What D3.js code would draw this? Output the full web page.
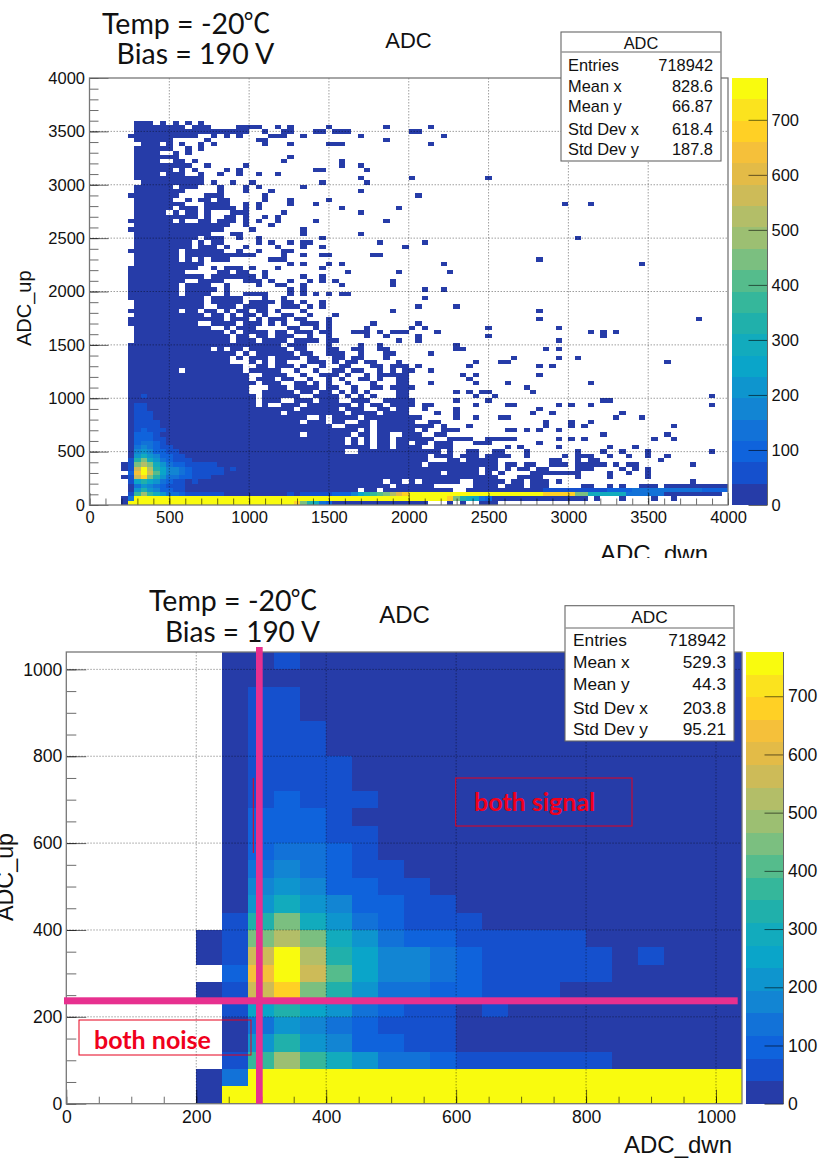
<!DOCTYPE html>
<html><head><meta charset="utf-8">
<script src="https://cdnjs.cloudflare.com/ajax/libs/d3/7.8.5/d3.min.js"></script>
<style>
html,body{margin:0;padding:0;background:#fff}
svg{display:block}
text{font-family:"Liberation Sans",Arial,sans-serif;fill:#111}
.note{font-family:Lato,"Noto Sans CJK SC",sans-serif}
.note tspan{font-family:"Noto Sans CJK SC",sans-serif}
.tag{font-family:Lato,sans-serif;font-weight:700;fill:#f0001c}
</style></head><body>
<svg id="c" width="822" height="1163"></svg>
<script>
// ---------- data ----------
const binSize = 40;
const palette = ["#263ca8","#1550cd","#0f63dc","#1272d8","#1285d3","#0e95ce","#0aa5c9","#12abbd","#20b0ab",
  "#35b79b","#55bc8c","#7bbf80","#9cbf72","#b3be68","#cdbb58","#e3bb47","#f5c03a","#ffd025","#fbe31e","#f9fb0e"];
const zMax = 776;
const zTicks = [0,100,200,300,400,500,600,700];

// Counts for bins x=200..1040 (columns, 21 bins) and y=0..1040 (rows, from y=0 upward)
const coreCounts = [
 [20,790,790,790,790,790,790,790,790,790,790,790,790,790,790,790,790,790,790,790,790],
 [20,137,790,790,790,790,790,790,790,790,790,790,790,790,790,790,790,790,790,790,790],
 [0,59,371,488,371,293,215,137,137,98,59,59,59,59,59,59,20,20,20,20,20],
 [0,20,215,332,215,176,98,98,59,59,20,20,20,20,20,20,20,20,20,20,20],
 [0,20,137,215,176,137,98,59,59,59,20,20,20,20,20,20,20,20,20,20,20],
 [0,59,254,332,254,215,137,98,59,59,20,59,20,20,20,20,20,20,20,20,20],
 [20,59,566,683,449,332,215,137,137,98,98,59,59,59,20,20,20,20,20,20,20],
 [0,98,644,790,566,410,254,176,176,137,98,59,59,59,59,59,20,20,20,20,20],
 [20,59,566,790,527,332,254,176,176,137,98,59,59,59,59,59,20,59,20,20,20],
 [20,59,449,527,449,293,215,137,98,98,59,59,59,59,59,20,20,20,20,20,20],
 [0,59,332,449,293,215,137,98,59,59,59,20,20,20,20,20,20,20,20,20,20],
 [0,20,215,293,215,176,98,98,59,59,20,20,20,20,20,20,20,20,20,20,20],
 [0,20,176,215,176,98,98,59,59,20,20,20,20,20,20,20,20,20,20,20,20],
 [0,20,137,176,137,98,59,59,20,20,20,20,20,20,20,20,20,20,20,20,20],
 [0,20,98,137,137,98,59,20,20,20,20,20,20,20,20,20,20,20,20,20,20],
 [0,20,98,98,98,59,59,20,20,20,20,20,20,20,20,20,20,20,20,20,20],
 [0,20,98,98,98,59,20,20,20,20,20,20,20,20,20,20,20,20,20,20,20],
 [0,20,59,98,59,59,59,20,20,20,20,20,20,20,20,20,20,20,20,20,20],
 [0,20,59,59,59,59,20,20,20,20,20,20,20,20,20,20,20,20,20,20,20],
 [0,20,59,59,59,59,20,20,20,20,20,20,20,20,20,20,20,20,20,20,20],
 [0,20,59,59,59,20,20,20,20,20,20,20,20,20,20,20,20,20,20,20,20],
 [0,20,59,59,59,20,20,20,20,20,20,20,20,20,20,20,20,20,20,20,20],
 [0,20,59,59,20,20,20,20,20,20,20,20,20,20,20,20,20,20,20,20,20],
 [0,20,59,59,20,20,20,20,20,20,20,20,20,20,20,20,20,20,20,20,20],
 [0,20,20,20,20,20,20,20,20,20,20,20,20,20,20,20,20,20,20,20,20],
 [0,20,20,59,20,20,20,20,20,20,20,20,20,20,20,20,20,20,20,20,20]
];
const coreFirstBin = 5;

// Bright band along the x axis: [yBin, firstXBin, lastXBin, count]
const ridgeRuns = [
 [0,26,31,790],[0,32,32,683],[0,33,33,449],[0,34,34,332],[0,35,35,293],[0,36,36,137],[0,37,37,98],[0,38,52,20],
 [0,56,56,20],[0,58,58,20],[0,61,63,20],
 [1,26,55,790],[1,56,56,683],[1,57,57,449],[1,58,58,332],[1,59,59,293],[1,60,60,254],[1,61,61,137],[1,62,62,98],
 [1,63,77,20],[1,79,79,20],[1,83,83,20],[1,88,88,20],[1,91,91,20],
 [2,26,30,20],[2,31,31,59],[2,32,32,20],[2,33,37,59],[2,38,40,98],[2,41,41,176],[2,42,42,254],[2,43,43,332],
 [2,44,44,371],[2,45,45,410],[2,46,46,449],[2,47,47,527],[2,48,48,605],[2,49,49,683],[2,50,70,790],[2,71,75,664],
 [2,76,77,449],[2,78,83,293],[2,84,89,137],[2,90,98,20],
 [3,71,80,59],[3,81,84,98],[3,85,95,137],[3,96,99,98]
];

// Occupied low-count bins (x bin runs) for each y bin in the upper panel
const occupiedRows = [
 [89,"7-9 11 13 15 17"],[88,"7-14 16-18 23-26 29 31 37 46 53"],[87,"7-24 27 30-31 35-36 38-40 50-51"],
 [86,"6-16 19 21 23 28-30 33 42 55"],[85,"7-12 18 26-27 46"],[84,"8-10 12 14 17 19 27 31 37-39 53"],
 [83,"7-12 15 17"],[82,"7-10 13 15"],[81,"7-13 31"],[80,"7-10 13-14 16 30 39"],[79,"7-15 18 24 39 42"],
 [78,"7-12 14 16 21 23 35-36 43"],[77,"7-10 12-14 17 20 23 26 29"],[76,"7-17 42 50 62"],[75,"8-17 19 22 25 36 43"],
 [74,"7-12 14-16 20 24 26 33"],[73,"7-14 20 24 28 42"],[72,"6-13 18-20 27 51"],[71,"7-12 15 17-18 20-21 27 31 37"],
 [70,"7-14 18-21 24 26 31 35 74 78"],[69,"7-12 14-16 18-22 24 26 39 48"],[68,"7-11 13 15-16 18 22-24 30 42"],
 [67,"7-16 18 21-22 24 27 29"],[66,"6-12 14 17-18 20-22 24 26 29 35 46"],[65,"7-21 24 28"],[64,"6-20 25 33"],
 [63,"7-18 22-23 33 42"],[62,"7-16 18-20 23 26 36 76"],[61,"7-15 17 19-20 26 28 31 33-34 45 52"],
 [60,"7-15 17-19 21 24 29 33 36 49"],[59,"6-13 15-20 23 26 30-31"],[58,"7-13 15-25 30 33 36-37 44-45"],
 [57,"7-13 15 17 19-21 28-30 70"],[56,"7-17 31 33 37 39 55 86"],[55,"6-16 19 21-23 25 29 36"],
 [54,"6-14 20-21 23-24 27 40 48 56"],[53,"6-17 19-25 27 33 36"],[52,"6-14 17-20 24-26 28 31 34 36 38 47"],
 [51,"6-13 15-18 21 26 29-30 33 39 47"],[50,"6-13 15-19 21 31 33 52 55"],[49,"6-13 15-18 21 24-27 31 33 35 37 39-40"],
 [48,"6-17 19-23 27 30 52"],[47,"7-17 19-23 25-28 30-31 33 36"],[46,"7-17 20-22 24-27 30-32 34 36 51 57"],
 [45,"6-13 15-16 18-19 21 23-24 26-27 29 33 47 70"],[44,"7-17 19-20 22 24-25 27 30-31 34 38"],
 [43,"6-20 22-24 26 28-30 32-33 37 70 95"],[42,"6-16 19-22 24-26 28 30 33-35 37 44 51"],
 [41,"7-18 21 23-25 31-32 35 37 43 50 52 62 73"],[40,"7-20 22 24-27 29-30 32-34 36-37 41-43 45 47-49 54 78 80 82"],
 [39,"7-21 23-24 26-27 29-31 34 37 43 46 51 62 80"],[38,"7-21 23-25 27-30 32-35 37-38 48 51 73"],
 [37,"6-29 31-33 37 42 45 57"],[36,"6-18 20 22-23 25-30 32-33 37-38 41-42 45-46 57-58 71 73"],
 [35,"6-22 24 26-31 33-34 37-39 42 46-47 53"],[34,"6-21 23 25-27 29-32 34-35 38-39 41-42 46 66 73 76"],
 [33,"6-21 25 27 29-30 34-36 38 40-41 43-44 48 60 64-65 90"],[32,"6-23 26-27 29-31 33 36 39-40 44-45 47-49 51 59 70 72"],
 [31,"6-13 15-23 25-29 32 35 38-39 41-42 45 47 49-50 53"],[30,"6-24 27-30 33 36-38 40 43 45-49 58 60 70"],
 [29,"6-24 26-28 30-31 34 37 39 42-43 45 48-49 59"],[28,"6-25 27-29 32-33 35 37 40 44 48-49 53 60 65 78"],
 [27,"6-24 28-30 32-35 37-38 41 44-45 47-50 68"],[26,"6-24 27-31 33-34 36-37 39 41 43 48-49 57 59 61-62 69"],
 [25,"6-25 27-32 35-38 40 42 44 48-49 60 63 97"],[24,"6-25 27-29 32-34 36-38 41-43 46-50 57 62 80-81"],
 [23,"6-25 27 30-32 34-40 42 44-45 47-50 52-53 60 65-66 73 75 78 97"],[22,"6-31 33-38 40-42 45-46 48-49 52 57 70"],
 [21,"6-29 31-39 41-44 46-49 54 57 69 72 83"],[20,"6-33 36 38-41 43-51 57 60 64-65 82 86"],
 [19,"6-32 34-36 38-39 42-43 45-50 53-54 71 75 78"],[18,"6-37 40-43 45-53 55 59 71 75 77 91"],
 [17,"6-41 43 45-50 52 55-57 65-66 68 70 73"],[16,"6-32 34-40 42-43 45-46 49-51 54-55 80 90"],
 [15,"6-39 41 43 45-46 48-53 56-59 62-66 73 75 77 88 91"],[14,"6-39 41 43 45-46 48-49 51-52 54-56 60-62 70"],
 [13,"6-43 45-46 48-51 54-56 65 67 73 81 85"],[12,"6-39 42-54 56 59-60 63-64 68 76 80 83 87 97"],
 [11,"6-52 54-56 58-60 62-65 68 74 76-78 81 84 87 90"],[10,"6-52 56-57 59-63 72-73 76 78-79 89"],
 [9,"6-51 53-63 65-66 68-69 72-74 76-80 82 84-85 94"],[8,"6-60 62-63 65 67-68 70-71 76-78 83 85 87"],
 [7,"6-54 56-60 62 64 69-76 81 84 87"],[6,"6-63 67-70 76 81 87"],[5,"6-45 47-48 50 52-57 60-64 66-67 69-71 73 94"],
 [4,"6-46 48-53 60-63 65-67 69-71 77-78 81 83 86-88 90-99"],[3,"6-41 43-44 46-56 59-70"]
];

const statLabels = ["Entries","Mean x","Mean y","Std Dev x","Std Dev y"];
const statsTop = ["718942","828.6","66.87","618.4","187.8"];
const statsBottom = ["718942","529.3","44.3","203.8","95.21"];
const xTicksTop = [0,500,1000,1500,2000,2500,3000,3500,4000];
const yTicksTop = [0,500,1000,1500,2000,2500,3000,3500,4000];
const minorTop = d3.range(0,4001,100);
const ticksBottom = [0,200,400,600,800,1000];
const minorBottom = d3.range(0,1041,50);

// ---------- assemble cells ----------
const lowCells = [];
occupiedRows.forEach(([j,s]) => s.split(" ").forEach(r => {
  const p = r.split("-").map(Number), a = p[0], b = p.length>1 ? p[1] : p[0];
  for (let i=a;i<=b;i++) lowCells.push({i,j,v:20});
}));
const ridgeCells = [];
ridgeRuns.forEach(([j,a,b,v]) => { for (let i=a;i<=b;i++) ridgeCells.push({i,j,v}); });
const coreCells = [];
coreCounts.forEach((row,j) => row.forEach((v,k) => { if (v>0) coreCells.push({i:k+coreFirstBin,j,v}); }));
// later entries replace earlier ones for the same bin
const cellMap = new Map();
[...lowCells,...ridgeCells,...coreCells].forEach(c => cellMap.set(c.i+"_"+c.j,c));
const cells = [...cellMap.values()];

const color = d3.scaleQuantize().domain([0,zMax]).range(palette);
const svg = d3.select("#c");
const tickCol = "rgba(0,0,0,.58)";
const plain = d3.format("d");

function panel(o){
  const g = svg.append("g");
  const x = d3.scaleLinear().domain([0,o.xMax]).range([o.l,o.r]);
  const y = d3.scaleLinear().domain([0,o.yMax]).range([o.b,o.t]);
  const vis = cells.filter(c => (c.i+1)*binSize<=o.xMax && (c.j+1)*binSize<=o.yMax);
  g.append("g").selectAll("rect").data(vis).join("rect")
    .attr("x",d=>x(d.i*binSize)).attr("y",d=>y((d.j+1)*binSize))
    .attr("width",d=>x((d.i+1)*binSize)-x(d.i*binSize))
    .attr("height",d=>y(d.j*binSize)-y((d.j+1)*binSize))
    .attr("fill",d=>color(d.v)).attr("shape-rendering","crispEdges");
  // grid
  const grid = g.append("g").attr("stroke","rgba(0,0,0,.38)").attr("stroke-width",1).attr("stroke-dasharray","1.5 1.5");
  grid.selectAll("line.v").data(o.xTicks.filter(v=>v>0&&v<o.xMax)).join("line").attr("class","v")
    .attr("x1",d=>x(d)).attr("x2",d=>x(d)).attr("y1",o.t).attr("y2",o.b);
  grid.selectAll("line.h").data(o.yTicks.filter(v=>v>0&&v<o.yMax)).join("line").attr("class","h")
    .attr("x1",o.l).attr("x2",o.r).attr("y1",d=>y(d)).attr("y2",d=>y(d));
  // axes
  const style = s => { s.select(".domain").remove(); s.selectAll("line").attr("stroke",tickCol);
    s.selectAll("text").attr("font-size",o.fs).attr("fill","#111").attr("font-family","Liberation Sans"); };
  g.append("g").attr("transform",`translate(0,${o.b})`)
    .call(d3.axisBottom(x).tickValues(o.minor).tickFormat("").tickSize(-o.xMinorLen)).call(style);
  g.append("g").attr("transform",`translate(${o.l},0)`)
    .call(d3.axisLeft(y).tickValues(o.minor.filter(v=>v<=o.yMax)).tickFormat("").tickSize(-o.yMinorLen)).call(style);
  g.append("g").attr("transform",`translate(0,${o.b})`)
    .call(d3.axisBottom(x).tickValues(o.xTicks).tickFormat(plain).tickSize(-o.xMajorLen).tickPadding(o.padX)).call(style);
  g.append("g").attr("transform",`translate(${o.l},0)`)
    .call(d3.axisLeft(y).tickValues(o.yTicks).tickFormat(plain).tickSize(-o.yMajorLen).tickPadding(o.padY)).call(style);
  g.append("rect").attr("x",o.l).attr("y",o.t).attr("width",o.r-o.l).attr("height",o.b-o.t)
    .attr("fill","none").attr("stroke","#777").attr("stroke-width",1.3);
  // colour bar
  const cy = d3.scaleLinear().domain([0,zMax]).range([o.b,o.t]);
  const step = zMax/palette.length;
  g.append("g").selectAll("rect").data(palette).join("rect")
    .attr("x",o.cl).attr("width",o.cr-o.cl)
    .attr("y",(d,k)=>cy((k+1)*step)).attr("height",(d,k)=>cy(k*step)-cy((k+1)*step))
    .attr("fill",d=>d).attr("shape-rendering","crispEdges");
  g.append("g").attr("transform",`translate(${o.cr},0)`)
    .call(d3.axisRight(cy).tickValues(zTicks).tickFormat(plain).tickSize(-19).tickPadding(o.padZ)).call(style);
  g.append("line").attr("x1",o.cr).attr("x2",o.cr).attr("y1",o.t).attr("y2",o.b).attr("stroke","#666").attr("stroke-width",1);
  // stats box
  const b = o.box;
  g.append("rect").attr("x",b.l).attr("y",b.t).attr("width",b.r-b.l).attr("height",b.b-b.t)
    .attr("fill","#fff").attr("stroke","#666").attr("stroke-width",1.1);
  g.append("line").attr("x1",b.l).attr("x2",b.r).attr("y1",b.h).attr("y2",b.h).attr("stroke","#999").attr("stroke-width",1.3);
  g.append("text").attr("x",(b.l+b.r)/2).attr("y",b.title).attr("text-anchor","middle").attr("font-size",b.fs).text("ADC");
  g.selectAll("text.sl").data(statLabels).join("text").attr("class","sl")
    .attr("x",b.tl).attr("y",(d,k)=>b.rows[k]).attr("font-size",b.fs).text(d=>d);
  g.selectAll("text.sv").data(o.stats).join("text").attr("class","sv")
    .attr("x",b.tr).attr("y",(d,k)=>b.rows[k]).attr("font-size",b.fs).attr("text-anchor","end").text(d=>d);
}

panel({l:89.5,r:728,t:78,b:505,xMax:4000,yMax:4000,xTicks:xTicksTop,yTicks:yTicksTop,minor:minorTop,
  xMinorLen:6.5,yMinorLen:9,xMajorLen:12,yMajorLen:19,fs:16.5,padX:6,padY:4.5,padZ:4,cl:732,cr:767.5,stats:statsTop,
  box:{l:561,r:721,t:32,b:161,h:52,title:49,fs:16.4,tl:568,tr:713,rows:[71,92,112,135,155]}});
panel({l:66.3,r:742,t:652,b:1103.7,xMax:1040,yMax:1040,xTicks:ticksBottom,yTicks:ticksBottom,minor:minorBottom,
  xMinorLen:7,yMinorLen:10,xMajorLen:14,yMajorLen:20,fs:17.6,padX:6.7,padY:4,padZ:4.5,cl:746,cr:783.5,stats:statsBottom,
  box:{l:565,r:734,t:605.7,b:741,h:628,title:623,fs:17.3,tl:573,tr:726,rows:[646,668,690,714,735]}});

// titles
const addText=(x,y,t,fs,cls,anchor)=>svg.append("text").attr("x",x).attr("y",y).attr("font-size",fs)
  .attr("class",cls||null).attr("text-anchor",anchor||"start").text(t);
addText(408.5,48,"ADC",22,null,"middle");
addText(404.5,623,"ADC",24,null,"middle");
addText(600,562,"ADC_dwn",24);
svg.append("rect").attr("x",590).attr("y",558).attr("width",140).attr("height",20).attr("fill","#fff");
addText(624,1153,"ADC_dwn",24);
svg.append("text").attr("transform","translate(31,346) rotate(-90)").attr("font-size",20).text("ADC_up");
svg.append("text").attr("transform","translate(13,921) rotate(-90)").attr("font-size",23.3).text("ADC_up");

// handwritten notes
const tempLine=(x,y)=>{ const t=addText(x,y,"Temp = -20",28.5,"note");
  t.append("tspan").attr("font-size",27).attr("dx",-1).attr("dy",-1).text("℃"); };
tempLine(102,33.5);
addText(116.5,63.5,"Bias = 190 V",28.5,"note");
tempLine(149,610.5);
addText(165,641.5,"Bias = 190 V",28,"note");

// annotations
const pink="#e7308f";
svg.append("rect").attr("x",256).attr("y",647).attr("width",6.7).attr("height",456.7).attr("fill",pink);
svg.append("rect").attr("x",64).attr("y",997.3).attr("width",673.7).attr("height",7).attr("fill",pink);
const red="#e5001c";
svg.append("rect").attr("x",455.7).attr("y",778).attr("width",176.3).attr("height",48).attr("fill","none").attr("stroke",red).attr("stroke-width",1);
svg.append("rect").attr("x",79).attr("y",1020).attr("width",172).attr("height",35).attr("fill","none").attr("stroke",red).attr("stroke-width",1);
svg.append("line").attr("x1",253.3).attr("x2",253.3).attr("y1",778).attr("y2",853).attr("stroke",red).attr("stroke-width",1);
addText(474,811,"both signal",25,"tag");
addText(94,1049,"both noise",25,"tag");
</script>
</body></html>
